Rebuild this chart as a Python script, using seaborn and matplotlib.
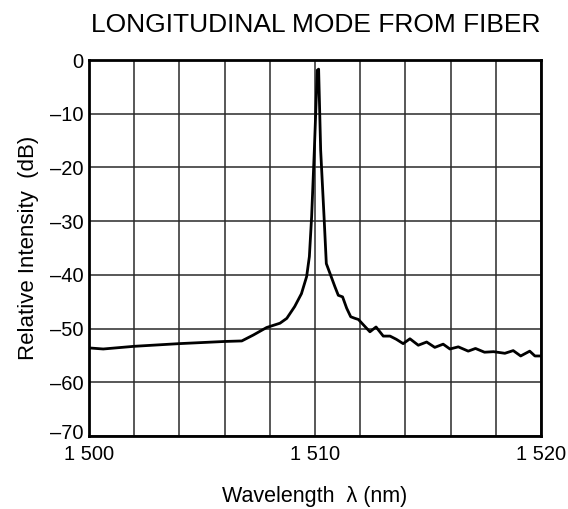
import pandas as pd
import matplotlib.pyplot as plt
import matplotlib.transforms as mtransforms
import seaborn as sns

# Spectrum (wavelength in nm, intensity in dB)
wavelength = [1500.0, 1500.63, 1502.0, 1504.0, 1506.0, 1506.76, 1507.27, 1507.86,
              1508.45, 1508.75, 1509.1, 1509.4, 1509.63, 1509.75, 1509.85, 1509.97,
              1510.1, 1510.16, 1510.25, 1510.4, 1510.5, 1510.66, 1510.88, 1511.03,
              1511.22, 1511.4, 1511.58, 1511.77, 1511.92, 1512.14, 1512.43, 1512.7,
              1513.02, 1513.32, 1513.6, 1513.9, 1514.2, 1514.57, 1514.94, 1515.3,
              1515.67, 1515.97, 1516.34, 1516.78, 1517.1, 1517.5, 1517.9, 1518.4,
              1518.77, 1519.1, 1519.5, 1519.73, 1520.0]
intensity = [-53.6, -53.8, -53.3, -52.8, -52.4, -52.3, -51.2, -49.8,
             -49.0, -48.1, -45.9, -43.5, -40.3, -36.6, -29.2, -16.8,
             -1.9, -1.7, -16.8, -29.2, -37.9, -39.7, -42.2, -43.8,
             -44.1, -46.2, -47.8, -48.1, -48.3, -49.3, -50.6, -49.7,
             -51.4, -51.4, -52.0, -52.8, -51.9, -53.1, -52.5, -53.5,
             -52.9, -53.8, -53.4, -54.2, -53.7, -54.4, -54.3, -54.6,
             -54.1, -55.1, -54.2, -55.1, -55.1]

x_ticks = [1500, 1510, 1520]
x_tick_labels = ["1 500", "1 510", "1 520"]
y_ticks = [0, -10, -20, -30, -40, -50, -60, -70]
y_tick_labels = ["0", "\u201310", "\u201320", "\u201330", "\u201340", "\u201350", "\u201360", "\u201370"]

df = pd.DataFrame({"Wavelength": wavelength, "Intensity": intensity})

sns.set_style("white")
plt.rcParams['font.family'] = ['Liberation Sans', 'DejaVu Sans']
plt.rcParams['text.color'] = 'black'
plt.rcParams['axes.labelcolor'] = 'black'
plt.rcParams['xtick.color'] = 'black'
plt.rcParams['ytick.color'] = 'black'

fig = plt.figure(figsize=(5.68, 5.09), dpi=100)
ax = fig.add_axes([0.1567, 0.1434, 0.7958, 0.7387])

sns.lineplot(x="Wavelength", y="Intensity", data=df, ax=ax, color="black",
             linewidth=2.0, sort=False, estimator=None)

ax.set_xlim(1500, 1520)
ax.set_ylim(-70, 0)

# grid every 2 nm and every 10 dB
ax.set_xticks([1500 + 2 * i for i in range(11)], minor=True)
ax.set_yticks(y_ticks)
ax.set_yticklabels(y_tick_labels, fontsize=14.5)
ax.set_xticks(x_ticks)
ax.set_xticklabels(x_tick_labels, fontsize=14.5)
ax.grid(True, which="both", color="#2a2a2a", linewidth=1.1)
ax.tick_params(axis="x", which="both", length=0, pad=6.5)
ax.tick_params(axis="y", which="both", length=0, pad=4)

# nudge the bottom y label up a little so it clears "1 500"
lbl = ax.get_yticklabels()[-1]
lbl.set_transform(lbl.get_transform() + mtransforms.ScaledTranslation(0, 3 / 72, fig.dpi_scale_trans))

for s in ax.spines.values():
    s.set_color("black")
    s.set_linewidth(2.0)

ax.set_xlabel("Wavelength  \u03bb (nm)", fontsize=15.5, labelpad=16)
ax.set_ylabel("Relative Intensity  (dB)", fontsize=16, labelpad=8)
fig.text(0.5555, 0.937, "LONGITUDINAL MODE FROM FIBER", ha="center", va="baseline", fontsize=19)

fig.savefig("out.png", dpi=100)
